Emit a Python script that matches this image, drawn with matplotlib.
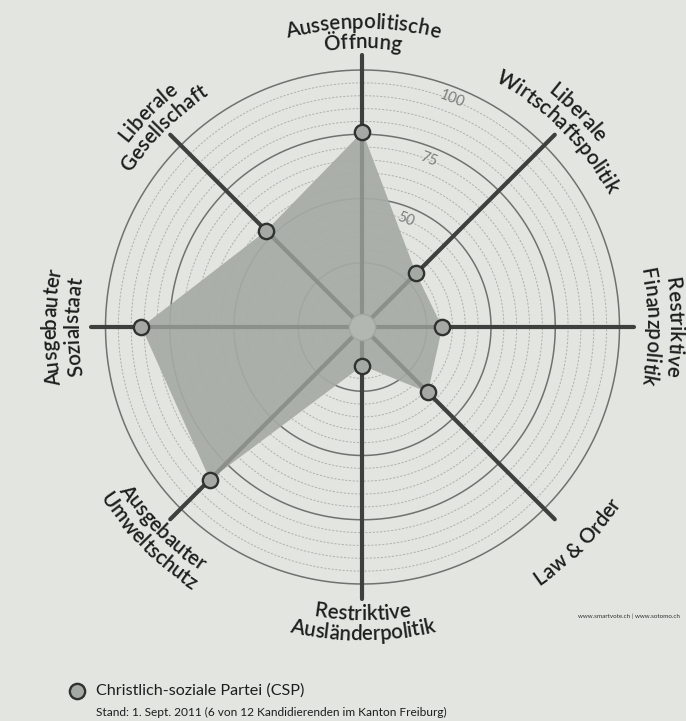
import numpy as np
import matplotlib
matplotlib.use("Agg")
import matplotlib.pyplot as plt
from matplotlib.textpath import TextToPath
from matplotlib.font_manager import FontProperties
from matplotlib.lines import Line2D

# ---------------- data ----------------
categories = ["Aussenpolitische Öffnung", "Liberale Wirtschaftspolitik",
              "Restriktive Finanzpolitik", "Law & Order",
              "Restriktive Ausländerpolitik", "Ausgebauter Umweltschutz",
              "Ausgebauter Sozialstaat", "Liberale Gesellschaft"]
label_lines = [("Aussenpolitische", "Öffnung"), ("Liberale", "Wirtschaftspolitik"),
               ("Restriktive", "Finanzpolitik"), ("Law & Order",),
               ("Restriktive", "Ausländerpolitik"), ("Ausgebauter", "Umweltschutz"),
               ("Ausgebauter", "Sozialstaat"), ("Liberale", "Gesellschaft")]
angles_deg = [90, 45, 0, -45, -90, -135, 180, 135]
values = [76, 29.5, 31, 36, 15, 84, 86, 53]
tick_values = [50, 75, 100]
party = "Christlich-soziale Partei (CSP)"
note = "Stand: 1. Sept. 2011 (6 von 12 Kandidierenden im Kanton Freiburg)"
credit = "www.smartvote.ch | www.sotomo.ch"

# ---------------- style ----------------
W, H = 686, 721
DPI = 100
CX, CY = 362.5, 327      # centre in pixels (from top)
PX = 2.57                # pixels per unit
HALF = 320
BG = "#e2e5e0"
TXT = "#1d1e1d"

fig = plt.figure(figsize=(W / DPI, H / DPI), dpi=DPI, facecolor=BG)
ax = fig.add_axes([(CX - HALF) / W, (H - CY - HALF) / H, 2 * HALF / W, 2 * HALF / H],
                  projection="polar")
ax.set_ylim(0, HALF / PX)
ax.set_axis_off()
ax.patch.set_visible(False)

th_full = np.linspace(0, 2 * np.pi, 600)
for v in range(5, 101, 5):
    if v % 25 == 0:
        ax.plot(th_full, np.full_like(th_full, v), color="#6f726e", lw=1.1, zorder=1)
    else:
        ax.plot(th_full, np.full_like(th_full, v), color="#aeb1ad", lw=0.7,
                ls=(0, (2.2, 1.6)), zorder=1)

theta = np.deg2rad(angles_deg)
th_closed = np.append(theta, theta[0])
v_closed = np.append(values, values[0])
ax.fill(th_closed, v_closed, color="#a7aba6", alpha=0.92, lw=0, zorder=2)

AX_END = 105.8
for t, v in zip(theta, values):
    ax.plot([t, t], [0, v], color="#8c908b", lw=3.0, solid_capstyle="butt", zorder=3)
    ax.plot([t, t], [v, AX_END], color="#3d403c", lw=3.0, solid_capstyle="round", zorder=3)
ax.plot([0], [0], marker="o", ms=19, mfc="#b3b7b2", mec="#a2a6a1", mew=1.0, zorder=4)
ax.plot(theta, values, ls="none", marker="o", ms=11, mfc="#a4a9a3", mec="#2f322f",
        mew=1.7, zorder=5)

# tick labels
TICK_ANG = np.deg2rad(68.5)
for tv in tick_values:
    ax.text(TICK_ANG, tv - 4.8, str(tv), rotation=68.5 - 90, rotation_mode="anchor",
            ha="center", va="center", fontsize=10.5, color="#7b7e7a", family="Lato",
            zorder=6)

# curved labels
fp = FontProperties(family="Lato", weight="semibold", size=14.8)
ttp = TextToPath()
_bar = ttp.get_text_width_height_descent("|", fp, ismath=False)[0]


def tw(s):
    if not s:
        return 0.0
    return (ttp.get_text_width_height_descent(s + "|", fp, ismath=False)[0] - _bar) * DPI / 72


def curved(text, ang_deg, r_center_px, top):
    fs_px = fp.get_size_in_points() * DPI / 72
    total = tw(text)
    rb = r_center_px - 0.36 * fs_px if top else r_center_px + 0.36 * fs_px
    for i, ch in enumerate(text):
        if ch == " ":
            continue
        s = tw(text[:i]) + tw(ch) / 2 - total / 2
        d = s / rb
        if top:
            th = np.deg2rad(ang_deg) - d
            rot = np.rad2deg(th) - 90
        else:
            th = np.deg2rad(ang_deg) + d
            rot = np.rad2deg(th) + 90
        ax.text(th, rb / PX, ch, rotation=rot, rotation_mode="anchor", ha="center",
                va="baseline", fontproperties=fp, color=TXT, clip_on=False, zorder=6)


for ang, lines in zip(angles_deg, label_lines):
    top = ang >= 0 or ang == 180
    if ang in (0, 180):
        r_out, r_in = 314, 291
    else:
        r_out, r_in = 306, 286
    if len(lines) == 1:
        curved(lines[0], ang, r_out, top)
    elif top:
        curved(lines[0], ang, r_out, top)
        curved(lines[1], ang, r_in, top)
    else:
        curved(lines[0], ang, r_in, top)
        curved(lines[1], ang, r_out, top)

# legend and notes
fig.add_artist(Line2D([77 / W], [1 - 691 / H], marker="o", ms=11, mfc="#a4a9a3",
                      mec="#2f322f", mew=1.7, ls="none", transform=fig.transFigure))
fig.text(96 / W, 1 - 691 / H, party, fontsize=11.6, family="Lato", color=TXT,
         ha="left", va="center")
fig.text(96 / W, 1 - 712 / H, note, fontsize=8.6, family="Lato", color=TXT,
         ha="left", va="center")
fig.text(680 / W, 1 - 616 / H, credit, fontsize=4.5, family="Lato", color="#333333",
         ha="right", va="center")

fig.savefig("out.png", dpi=DPI, facecolor=BG)
